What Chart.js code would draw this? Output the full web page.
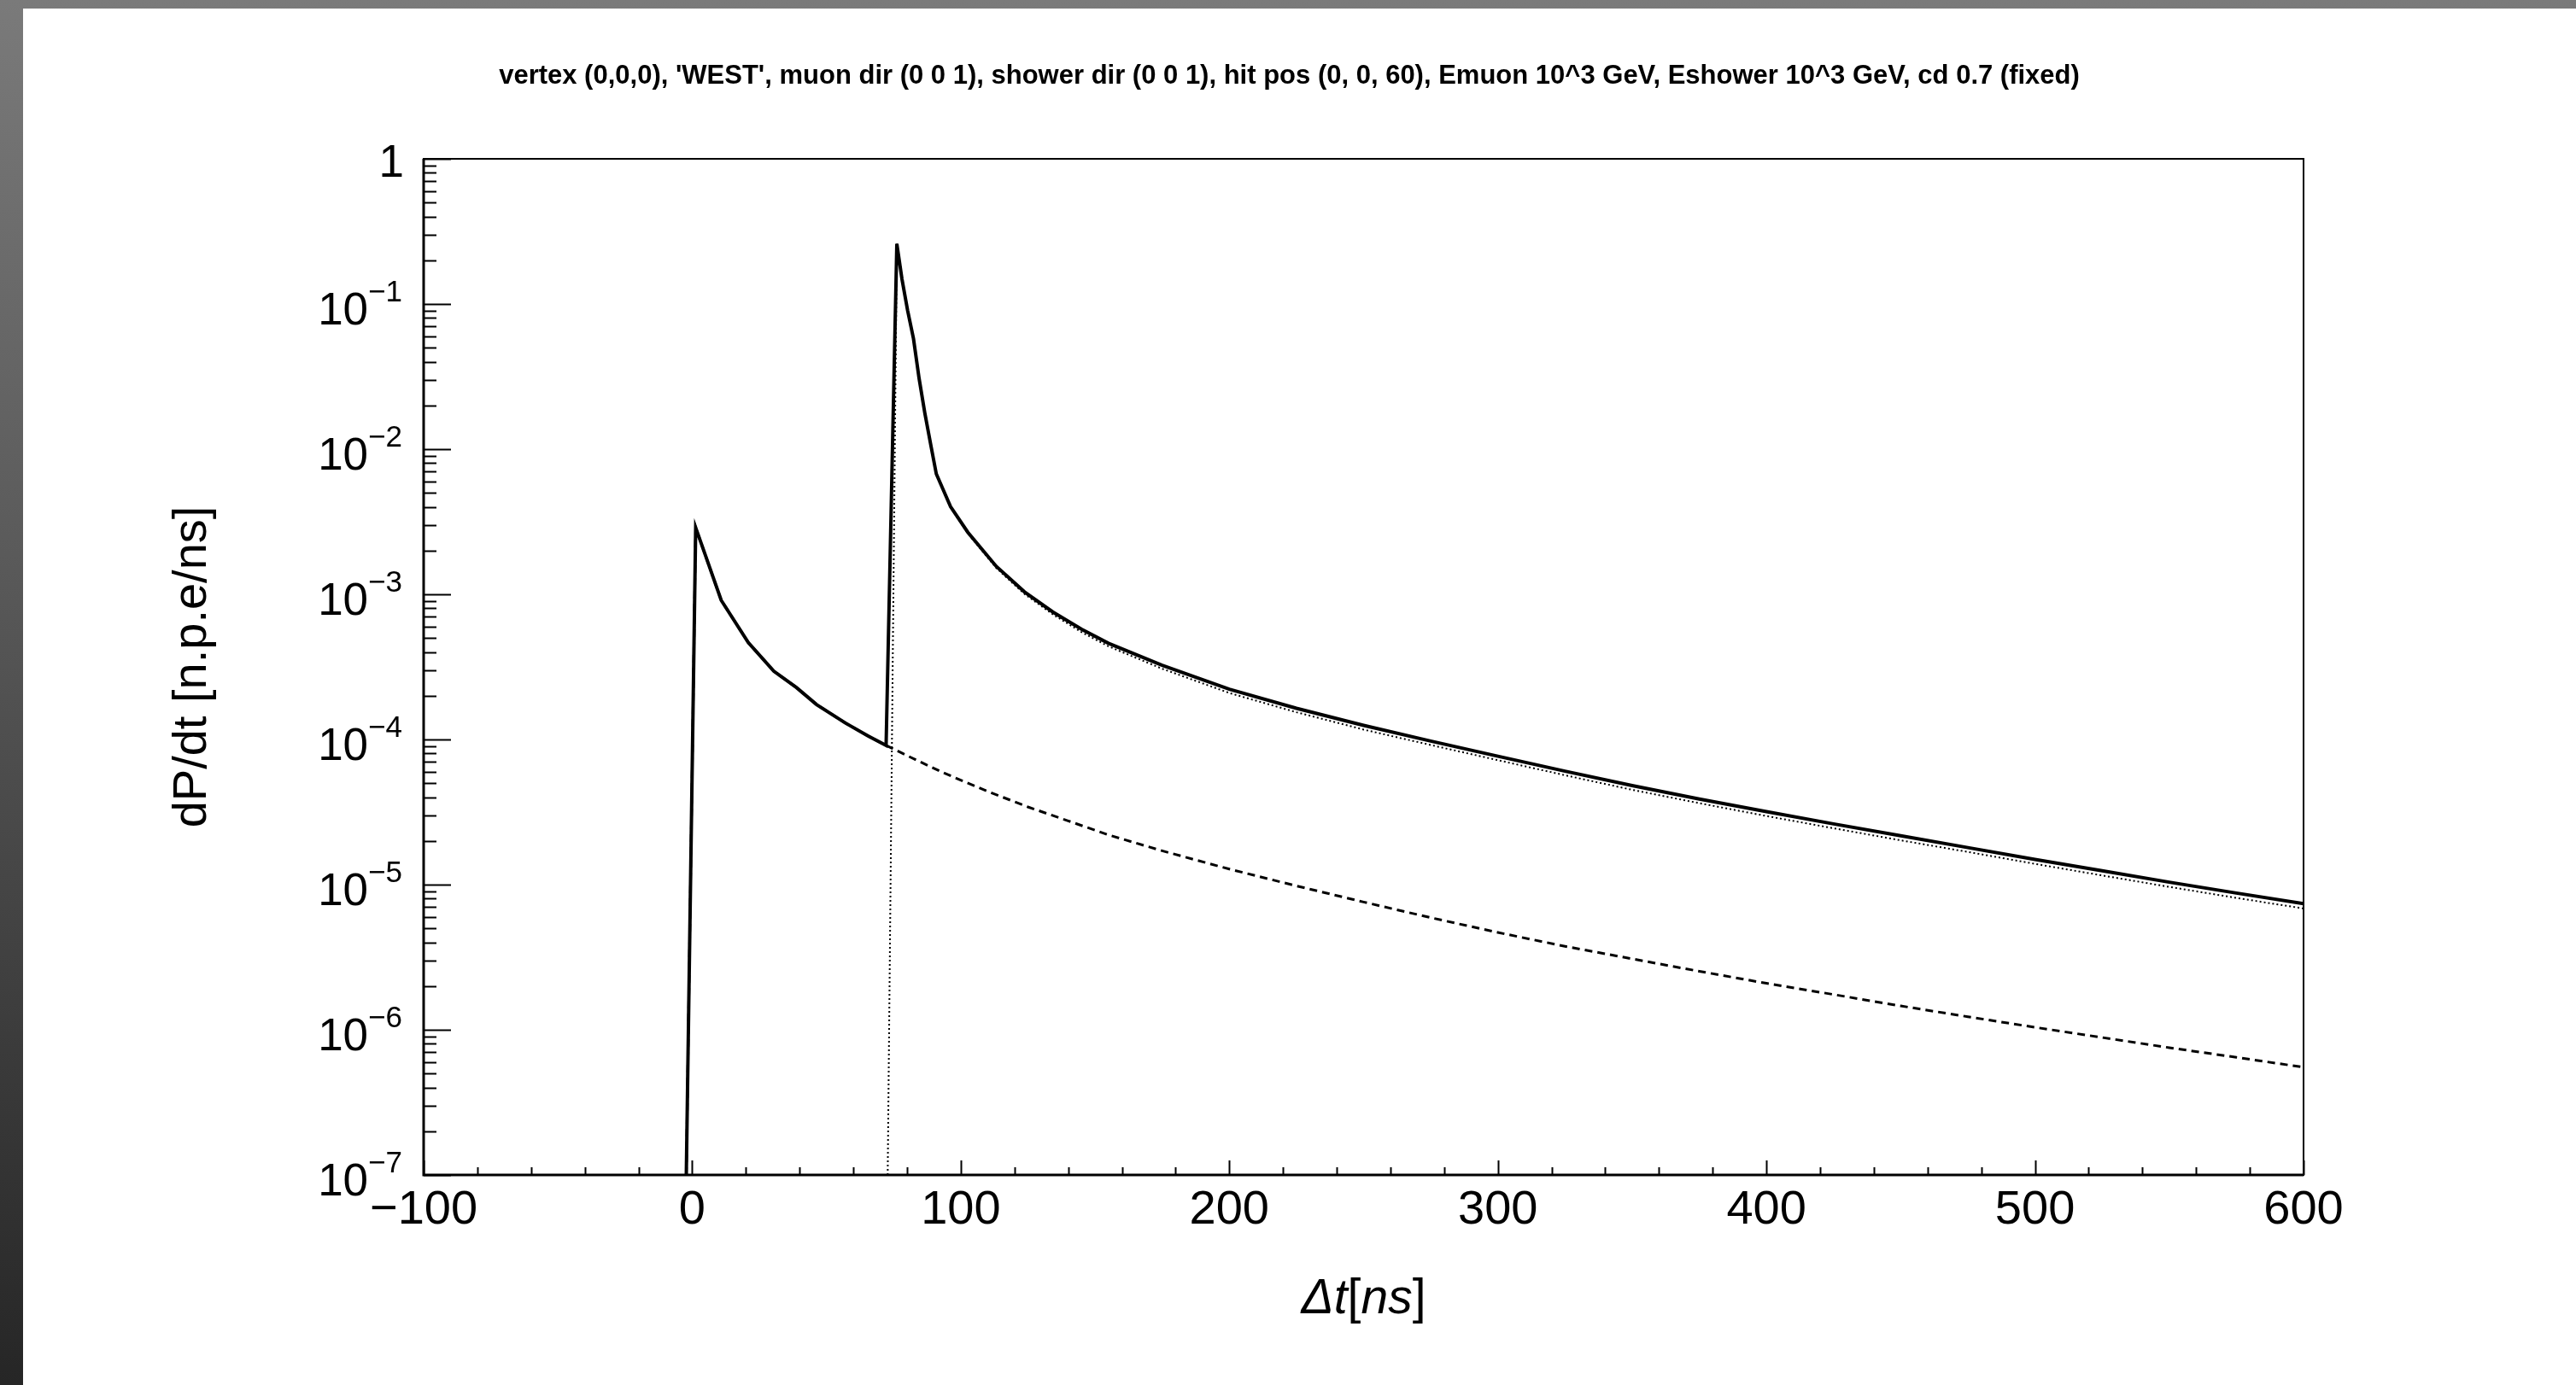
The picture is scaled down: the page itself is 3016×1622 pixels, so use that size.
<!DOCTYPE html>
<html>
<head>
<meta charset="utf-8">
<title>dP/dt</title>
<script src="https://cdn.jsdelivr.net/npm/chart.js@4.4.1/dist/chart.umd.min.js"></script>
<style>
  html, body { margin: 0; padding: 0; }
  body {
    width: 3016px; height: 1622px; overflow: hidden; position: relative;
    background: linear-gradient(#7a7a7a, #5a5a5a 40%, #262626);
  }
  #pad { position: absolute; left: 27px; top: 10px; width: 2989px; height: 1612px; background: #fff; }
  canvas { display: block; }
</style>
</head>
<body>
<div id="pad"><canvas id="pulseChart" width="2989" height="1612"></canvas></div>
<script>
const titleText = "vertex (0,0,0), 'WEST', muon dir (0 0 1), shower dir (0 0 1), hit pos (0, 0, 60), Emuon 10^3 GeV, Eshower 10^3 GeV, cd 0.7 (fixed)";

// total (solid)
const totalT = [-2.2, 1.3, 10.8, 20.9, 30.4, 38.8, 46.3, 57.0, 65.4, 72.2, 76.2, 78.1, 80.2, 82.4, 84.5, 86.6, 88.8, 90.9,
  96.2, 102.6, 113.2, 123.7, 134.3, 144.9, 155, 175, 200, 225, 250, 275, 300, 325, 350, 375, 400, 425, 450, 475, 500, 525, 550, 575, 600];
const totalY = [1e-7, 2.88e-3, 9.1e-4, 4.65e-4, 2.95e-4, 2.28e-4, 1.74e-4, 1.3e-4, 1.06e-4, 9.1e-5, 2.6e-1, 1.49e-1, 9.06e-2, 5.77e-2, 3.06e-2, 1.78e-2, 1.08e-2, 6.75e-3,
  4.02e-3, 2.68e-3, 1.56e-3, 1.04e-3, 7.55e-4, 5.76e-4, 4.6e-4, 3.24e-4, 2.22e-4, 1.64e-4, 1.25e-4, 9.75e-5, 7.67e-5, 6.05e-5, 4.81e-5, 3.89e-5, 3.18e-5, 2.62e-5, 2.17e-5, 1.8e-5, 1.49e-5, 1.245e-5, 1.04e-5, 8.75e-6, 7.4e-6];

// muon (dashed)
const muonT = [-2.2, 1.3, 10.8, 20.9, 30.4, 38.8, 46.3, 57.0, 65.4, 72.2, 83, 93.5, 110, 125, 140, 155, 175, 200, 225, 250, 275, 300,
  325, 350, 375, 400, 425, 450, 475, 500, 525, 550, 575, 600];
const muonY = [1e-7, 2.88e-3, 9.1e-4, 4.65e-4, 2.95e-4, 2.28e-4, 1.74e-4, 1.3e-4, 1.06e-4, 9.1e-5, 7.28e-5, 5.9e-5, 4.39e-5, 3.43e-5, 2.75e-5, 2.2e-5, 1.71e-5, 1.28e-5, 9.8e-6, 7.59e-6, 5.92e-6, 4.68e-6,
  3.76e-6, 3.08e-6, 2.53e-6, 2.09e-6, 1.75e-6, 1.46e-6, 1.23e-6, 1.04e-6, 8.85e-7, 7.53e-7, 6.46e-7, 5.52e-7];

// shower (dotted)
const showerT = [72.8, 76.2, 78.1, 80.2, 82.4, 84.5, 86.6, 88.8, 90.9, 96.2, 102.6, 113.2, 123.7, 134.3, 144.9, 155, 175, 200, 225, 250,
  275, 300, 325, 350, 375, 400, 425, 450, 475, 500, 525, 550, 575, 600];
const showerY = [1e-7, 2.6e-1, 1.49e-1, 9.05e-2, 5.76e-2, 3.05e-2, 1.77e-2, 1.07e-2, 6.69e-3, 3.96e-3, 2.63e-3, 1.52e-3, 1.006e-3, 7.27e-4, 5.5e-4, 4.38e-4, 3.07e-4, 2.09e-4, 1.54e-4, 1.17e-4,
  9.16e-5, 7.2e-5, 5.67e-5, 4.5e-5, 3.64e-5, 2.97e-5, 2.445e-5, 2.02e-5, 1.68e-5, 1.39e-5, 1.157e-5, 9.65e-6, 8.1e-6, 6.85e-6];

const xTickValues = [-100, 0, 100, 200, 300, 400, 500, 600];
const xTickLabels = ['\u2212100', '0', '100', '200', '300', '400', '500', '600'];
const yDecades = [0, -1, -2, -3, -4, -5, -6, -7];

const FONT = '"Liberation Sans", Arial, Helvetica, sans-serif';
const toPoints = (ts, ys) => ts.map((t, i) => ({ x: t, y: ys[i] }));

const rootFrame = {
  id: 'rootFrame',
  afterDraw(chart) {
    const { ctx, chartArea: a, scales: { x, y } } = chart;
    ctx.save();
    ctx.strokeStyle = '#000';

    ctx.lineWidth = 2;
    ctx.strokeRect(a.left, a.top, a.right - a.left, a.bottom - a.top);
    ctx.lineWidth = 3;
    ctx.beginPath();
    ctx.moveTo(a.left, a.top);
    ctx.lineTo(a.left, a.bottom);
    ctx.lineTo(a.right, a.bottom);
    ctx.stroke();

    // x ticks: major every 100, minor every 20
    ctx.lineWidth = 2;
    ctx.beginPath();
    for (let t = -100; t <= 600; t += 20) {
      const px = Math.round(x.getPixelForValue(t)) + 0.5;
      const len = t % 100 === 0 ? 17 : 9;
      ctx.moveTo(px, a.bottom);
      ctx.lineTo(px, a.bottom - len);
    }
    // y ticks: decades and 2..9
    yDecades.forEach(d => {
      const py = Math.round(y.getPixelForValue(Math.pow(10, d))) + 0.5;
      ctx.moveTo(a.left, py);
      ctx.lineTo(a.left + 32, py);
      if (d < 0) {
        for (let k = 2; k <= 9; k++) {
          const pm = Math.round(y.getPixelForValue(k * Math.pow(10, d))) + 0.5;
          ctx.moveTo(a.left, pm);
          ctx.lineTo(a.left + 15, pm);
        }
      }
    });
    ctx.stroke();

    ctx.fillStyle = '#000';
    ctx.textBaseline = 'alphabetic';

    // x tick labels
    ctx.font = `56px ${FONT}`;
    ctx.textAlign = 'center';
    xTickValues.forEach((t, i) => {
      ctx.fillText(xTickLabels[i], x.getPixelForValue(t), a.bottom + 57);
    });

    // y tick labels
    const right = a.left - 25;
    ctx.textAlign = 'right';
    yDecades.forEach(d => {
      const py = y.getPixelForValue(Math.pow(10, d));
      if (d === 0) {
        ctx.font = `53px ${FONT}`;
        ctx.fillText('1', right + 2, py + 21);
        return;
      }
      const sup = '\u2212' + Math.abs(d);
      ctx.font = `35px ${FONT}`;
      const supW = ctx.measureText(sup).width;
      ctx.fillText(sup, right, py - 3);
      ctx.font = `53px ${FONT}`;
      ctx.fillText('10', right - supW, py + 24);
    });

    // y title
    ctx.save();
    ctx.translate(a.left - 255, (a.top + a.bottom) / 2);
    ctx.rotate(-Math.PI / 2);
    ctx.textAlign = 'center';
    ctx.font = `56px ${FONT}`;
    ctx.fillText('dP/dt [n.p.e/ns]', 0, 0);
    ctx.restore();

    // x title: italic Δt and ns, upright brackets
    const parts = [['\u0394t', 'italic '], ['[', ''], ['ns', 'italic '], [']', '']];
    const widths = parts.map(([s, st]) => { ctx.font = `${st}57px ${FONT}`; return ctx.measureText(s).width; });
    let cx = (a.left + a.right) / 2 - widths.reduce((s, w) => s + w, 0) / 2;
    ctx.textAlign = 'left';
    parts.forEach(([s, st], i) => {
      ctx.font = `${st}57px ${FONT}`;
      ctx.fillText(s, cx, a.bottom + 162);
      cx += widths[i];
    });

    // title
    ctx.textAlign = 'center';
    ctx.font = `bold 31px ${FONT}`;
    ctx.fillText(titleText, chart.width / 2 - 12, 88);

    ctx.restore();
  }
};

new Chart(document.getElementById('pulseChart'), {
  type: 'line',
  data: {
    datasets: [
      {
        label: 'total',
        data: toPoints(totalT, totalY),
        borderColor: '#000',
        borderWidth: 4,
        order: 0
      },
      {
        label: 'muon',
        data: toPoints(muonT, muonY),
        borderColor: '#000',
        borderWidth: 3,
        borderDash: [9, 6],
        order: 1
      },
      {
        label: 'shower',
        data: toPoints(showerT, showerY),
        borderColor: '#000',
        borderWidth: 2,
        borderDash: [2, 3],
        order: 2
      }
    ]
  },
  options: {
    responsive: false,
    animation: false,
    devicePixelRatio: 1,
    layout: { padding: { left: 469, right: 319, top: 176, bottom: 246 } },
    elements: {
      point: { radius: 0, hoverRadius: 0 },
      line: { tension: 0, fill: false, borderJoinStyle: 'miter' }
    },
    scales: {
      x: { type: 'linear', min: -100, max: 600, display: false },
      y: { type: 'logarithmic', min: 1e-7, max: 1, display: false }
    },
    plugins: {
      legend: { display: false },
      tooltip: { enabled: false },
      title: { display: false }
    }
  },
  plugins: [rootFrame]
});
</script>
</body>
</html>
